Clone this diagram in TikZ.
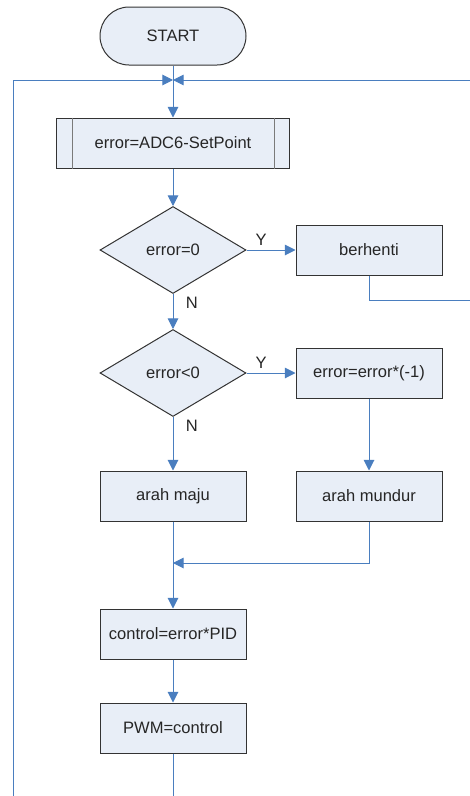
\documentclass[tikz,border=0pt]{standalone}
\usepackage{fontspec}
\setmainfont{Liberation Sans}
\usetikzlibrary{shapes.geometric,arrows.meta}

\definecolor{flowline}{HTML}{4A7EBF}
\definecolor{boxfill}{HTML}{E8EEF7}
\definecolor{boxline}{HTML}{333333}
\definecolor{subline}{HTML}{7A7A7A}

\tikzset{
    flowtext/.style={font=\fontsize{12.4}{14}\selectfont, text=black!85},
    processbox/.style={flowtext, rectangle, draw=boxline, fill=boxfill, line width=0.75pt,
        minimum width=109.5pt, minimum height=37.5pt, inner sep=0pt},
    terminal/.style={processbox, minimum height=43.5pt, rounded corners=21.75pt},
    subbox/.style={processbox, minimum width=174.75pt},
    decision/.style={flowtext, diamond, draw=boxline, fill=boxfill, line width=0.75pt,
        minimum width=109.5pt, minimum height=65.25pt, inner sep=0pt},
    flow/.style={draw=flowline, line width=0.75pt},
    flowarrow/.style={flow, -{Triangle[length=8pt,width=8pt]}},
    answer/.style={flowtext}
}

\begin{document}
\begin{tikzpicture}[x=0.75pt, y=-0.75pt]
    \useasboundingbox (0,0) rectangle (469,796);

    % Blocks
    \node[terminal]   (start)   at (173,36)  {START};
    \node[subbox]     (hitung)  at (173,143) {error=ADC6-SetPoint};
    \node[decision]   (nol)     at (173,250) {error=0};
    \node[processbox] (henti)   at (369,250) {berhenti};
    \node[decision]   (negatif) at (173,373) {error<0};
    \node[processbox] (balik)   at (369,373) {error=error*(-1)};
    \node[processbox] (maju)    at (173,496) {arah maju};
    \node[processbox] (mundur)  at (369,496) {arah mundur};
    \node[processbox] (kontrol) at (173,634) {control=error*PID};
    \node[processbox] (pwm)     at (173,728) {PWM=control};

    % Subroutine side bars
    \draw[subline, line width=0.75pt] ([xshift=12pt]hitung.north west) -- ([xshift=12pt]hitung.south west);
    \draw[subline, line width=0.75pt] ([xshift=-12pt]hitung.north east) -- ([xshift=-12pt]hitung.south east);

    % Join points
    \coordinate (loop)  at (173,80);
    \coordinate (gabung) at (173,563);

    % Main flow
    \draw[flowarrow] (start) -- (hitung);
    \draw[flowarrow] (hitung) -- (nol);
    \draw[flowarrow] (nol) -- (henti) node[answer, pos=0.3, above] {Y};
    \draw[flowarrow] (nol) -- (negatif) node[answer, pos=0.25, right, xshift=6pt] {N};
    \draw[flowarrow] (negatif) -- (balik) node[answer, pos=0.3, above] {Y};
    \draw[flowarrow] (negatif) -- (maju) node[answer, pos=0.17, right, xshift=6pt] {N};
    \draw[flowarrow] (balik) -- (mundur);
    \draw[flowarrow] (maju) -- (kontrol);
    \draw[flowarrow] (mundur.south) |- (gabung);
    \draw[flowarrow] (kontrol) -- (pwm);

    % Loops back to the top
    \draw[flowarrow] (pwm.south) -- (173,810) -| (13,80) -- (loop);
    \draw[flowarrow] (henti.south) |- (480,300) |- (loop);
\end{tikzpicture}
\end{document}
